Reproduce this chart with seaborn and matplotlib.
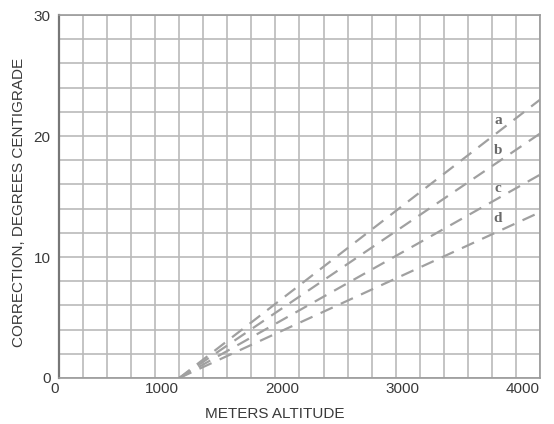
import numpy as np
import pandas as pd
import seaborn as sns
import matplotlib.pyplot as plt

# values
altitude = [1000, 4000]
curve_a = [0, 23.0]
curve_b = [0, 20.2]
curve_c = [0, 16.8]
curve_d = [0, 13.7]
curve_names = ['a', 'b', 'c', 'd']
label_pos = [(3650, 21.3), (3650, 18.8), (3650, 15.7), (3650, 13.2)]
x_ticks = [0, 1000, 2000, 3000, 4000]
y_ticks = [0, 10, 20, 30]

sns.set_theme(style='white')
plt.rcParams['font.family'] = ['Liberation Sans Narrow', 'Liberation Sans', 'DejaVu Sans']

df = pd.DataFrame({'altitude': altitude * 4,
                   'correction': curve_a + curve_b + curve_c + curve_d,
                   'curve': [n for n in curve_names for _ in altitude]})

fig = plt.figure(figsize=(5.54, 4.24), dpi=100)
ax = fig.add_axes([0.1065, 0.1085, 0.8682, 0.8561])

sns.lineplot(data=df, x='altitude', y='correction', units='curve', estimator=None,
             color='#a0a0a0', lw=1.6, dashes=False, ax=ax, legend=False)
for l in ax.lines:
    l.set_dashes([6, 4])

ax.set_xlim(0, 4000)
ax.set_ylim(0, 30)
ax.set_xticks(x_ticks)
ax.set_yticks(y_ticks)
ax.set_xticks(np.arange(0, 4001, 200), minor=True)
ax.set_yticks(np.arange(0, 31, 2), minor=True)
ax.grid(which='both', color='#bababa', lw=1.2)
ax.set_axisbelow(True)
ax.tick_params(which='both', length=0, labelsize=11, labelcolor='#3a3a3a')
ax.tick_params(axis='x', pad=3)
ax.tick_params(axis='y', pad=6)
for t in ax.get_xticklabels():
    t.set_ha('right')

for s in ax.spines.values():
    s.set_color('#9a9a9a')
    s.set_linewidth(1.2)
ax.spines['left'].set_color('#777777')
ax.spines['left'].set_linewidth(1.6)

for name, (x, y) in zip(curve_names, label_pos):
    ax.text(x, y, name, family='Liberation Serif', fontweight='bold', fontsize=11,
            color='#6a6a6a', ha='center', va='center')

ax.set_xlabel('METERS ALTITUDE', fontsize=11, color='#3a3a3a')
ax.set_ylabel('CORRECTION, DEGREES CENTIGRADE', fontsize=11, color='#3a3a3a')
ax.xaxis.set_label_coords(0.449, -0.08)
ax.yaxis.set_label_coords(-0.069, 0.485)

plt.savefig('out.png', dpi=100)
